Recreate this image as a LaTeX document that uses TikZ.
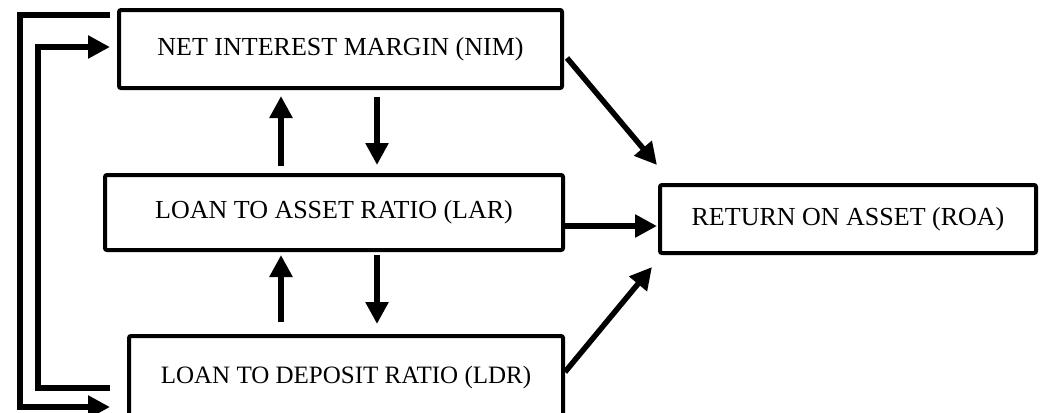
\documentclass[tikz,border=0pt]{standalone}
\usepackage{fontspec}
\setmainfont{Liberation Serif}
\usetikzlibrary{arrows.meta}
\tikzstyle{arrow} = [line width=2.75pt,-{Triangle[length=11pt,width=11pt]}]
\tikzstyle{block} = [rectangle, rounded corners=1pt, line width=2pt, draw=black, fill=white, text centered, inner sep=0pt, outer sep=0pt, font=\fontsize{13}{16}\selectfont]

\begin{document}
\begin{tikzpicture}[x=0.5pt, y=-0.5pt]
\useasboundingbox (0,0) rectangle (1043,412);

\node (nim) [block, minimum width=221.5pt, minimum height=39pt] at (340.5,49) {NET INTEREST MARGIN (NIM)};
\node (lar) [block, minimum width=229pt, minimum height=37.5pt] at (334,212.5) {LOAN TO ASSET RATIO (LAR)};
\node (ldr) [block, minimum width=217pt, minimum height=41pt, font=\fontsize{12.5}{15}\selectfont] at (346,377) {LOAN TO DEPOSIT RATIO (LDR)};
\node (roa) [block, minimum width=188pt, minimum height=34pt] at (848,219) {RETURN ON ASSET (ROA)};

% corners of the two feedback loops
\node[coordinate] (l_outer) at (20,15) {};
\node[coordinate] (l_inner) at (38,388) {};

\draw [arrow] ([shift={(-53,-9)}]lar.north) -- ([shift={(-59.5,8)}]nim.south);
\draw [arrow] ([shift={(36.5,9)}]nim.south) -- ([shift={(43,-10)}]lar.north);
\draw [arrow] ([shift={(-65,-14)}]ldr.north) -- ([shift={(-53,5)}]lar.south);
\draw [arrow] ([shift={(43,5)}]lar.south) -- ([shift={(31,-12)}]ldr.north);

\draw [arrow] ([shift={(5,9)}]nim.east) -- ([shift={(-3,-20)}]roa.north west);
\draw [arrow] ([shift={(2,13.5)}]lar.east) -- ([shift={(-3,7)}]roa.west);
\draw [arrow] ([shift={(2,-5)}]ldr.east) -- ([shift={(-8,14)}]roa.south west);

\draw [arrow] ([shift={(-9,5)}]nim.north west) -- (l_outer) |- ([shift={(-19,30)}]ldr.west);
\draw [arrow] ([shift={(-19,11)}]ldr.west) -- (l_inner) |- ([shift={(-9,-2)}]nim.west);
\end{tikzpicture}
\end{document}
